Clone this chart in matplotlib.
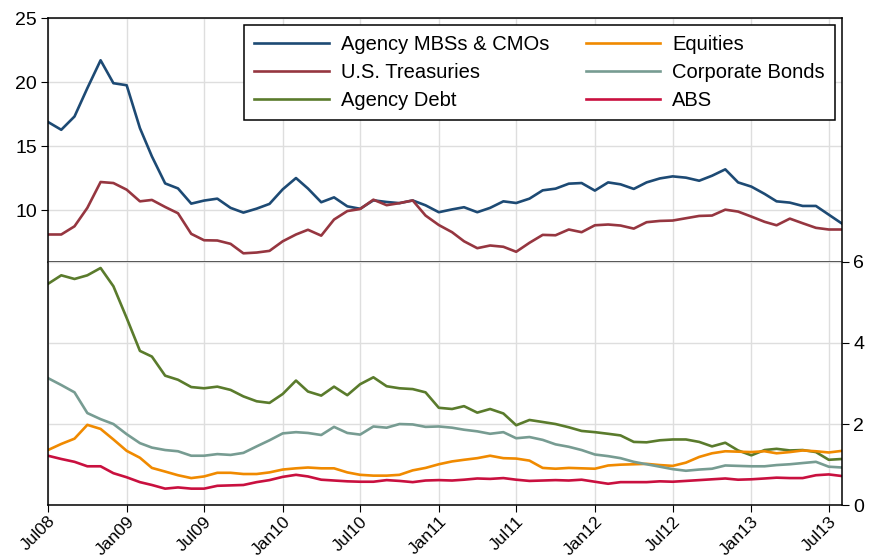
import matplotlib
matplotlib.use("Agg")
import matplotlib.pyplot as plt
import matplotlib.dates as mdates
import pandas as pd

plt.rcParams['font.family'] = ['Liberation Sans', 'DejaVu Sans']

dates = pd.date_range("2008-07-01", periods=62, freq="MS")

mbs = [16.9, 16.29, 17.33, 19.54, 21.72, 19.93, 19.77, 16.42, 14.21, 12.1,
       11.71, 10.52, 10.76, 10.91, 10.19, 9.82, 10.13, 10.5, 11.64, 12.52,
       11.7, 10.63, 11.01, 10.31, 10.12, 10.78, 10.65, 10.56, 10.77, 10.39,
       9.85, 10.07, 10.24, 9.85, 10.19, 10.70, 10.57, 10.91, 11.56, 11.69,
       12.08, 12.13, 11.54, 12.18, 12.03, 11.67, 12.18, 12.49, 12.65, 12.55,
       12.31, 12.70, 13.2, 12.18, 11.85, 11.28, 10.70, 10.6, 10.34, 10.34,
       9.66, 8.96]
treasuries = [8.11, 8.11, 8.75, 10.19, 12.21, 12.13, 11.61, 10.70, 10.81, 10.26,
              9.77, 8.16, 7.66, 7.64, 7.38, 6.64, 6.70, 6.83, 7.58, 8.11,
              8.48, 8.02, 9.28, 9.94, 10.1, 10.83, 10.4, 10.56, 10.77, 9.59,
              8.85, 8.29, 7.58, 7.04, 7.25, 7.15, 6.76, 7.46, 8.08, 8.05,
              8.50, 8.29, 8.83, 8.89, 8.81, 8.57, 9.07, 9.17, 9.20, 9.38,
              9.56, 9.59, 10.05, 9.90, 9.51, 9.10, 8.83, 9.35, 8.99, 8.63,
              8.50, 8.50]
agency_debt = [5.45, 5.66, 5.57, 5.66, 5.84, 5.39, 4.61, 3.80, 3.66, 3.19,
               3.09, 2.91, 2.88, 2.92, 2.84, 2.68, 2.56, 2.52, 2.74, 3.07,
               2.80, 2.70, 2.92, 2.71, 2.98, 3.15, 2.93, 2.88, 2.86, 2.78,
               2.40, 2.37, 2.44, 2.28, 2.37, 2.26, 1.97, 2.10, 2.05, 2.0,
               1.92, 1.83, 1.80, 1.76, 1.72, 1.56, 1.55, 1.60, 1.62, 1.62,
               1.56, 1.45, 1.54, 1.35, 1.23, 1.36, 1.39, 1.35, 1.36, 1.31,
               1.12, 1.14]
equities = [1.36, 1.51, 1.64, 1.98, 1.88, 1.62, 1.34, 1.17, 0.92, 0.83,
            0.74, 0.67, 0.71, 0.80, 0.80, 0.77, 0.77, 0.81, 0.88, 0.91,
            0.93, 0.91, 0.91, 0.81, 0.75, 0.73, 0.73, 0.75, 0.86, 0.92,
            1.01, 1.08, 1.12, 1.16, 1.22, 1.16, 1.15, 1.10, 0.92, 0.90,
            0.92, 0.91, 0.90, 0.98, 1.00, 1.01, 1.02, 0.99, 0.97, 1.05,
            1.19, 1.28, 1.33, 1.32, 1.31, 1.33, 1.28, 1.31, 1.35, 1.33,
            1.30, 1.34]
corporate = [3.13, 2.96, 2.78, 2.27, 2.12, 2.0, 1.75, 1.53, 1.42, 1.36,
             1.33, 1.22, 1.22, 1.26, 1.24, 1.29, 1.45, 1.60, 1.77, 1.80,
             1.78, 1.73, 1.93, 1.78, 1.74, 1.94, 1.91, 2.0, 1.99, 1.93,
             1.94, 1.91, 1.86, 1.82, 1.76, 1.80, 1.65, 1.68, 1.61, 1.50,
             1.44, 1.36, 1.25, 1.21, 1.16, 1.07, 1.01, 0.95, 0.89, 0.85,
             0.88, 0.90, 0.98, 0.97, 0.96, 0.96, 0.99, 1.01, 1.04, 1.07,
             0.95, 0.93]
abs_ = [1.22, 1.14, 1.07, 0.96, 0.96, 0.79, 0.69, 0.57, 0.50, 0.41,
        0.44, 0.41, 0.41, 0.48, 0.49, 0.50, 0.57, 0.62, 0.70, 0.75,
        0.71, 0.63, 0.61, 0.59, 0.58, 0.58, 0.62, 0.60, 0.57, 0.61,
        0.62, 0.61, 0.63, 0.66, 0.65, 0.67, 0.63, 0.60, 0.61, 0.62,
        0.61, 0.63, 0.58, 0.53, 0.57, 0.57, 0.57, 0.59, 0.58, 0.60,
        0.62, 0.64, 0.66, 0.63, 0.64, 0.66, 0.68, 0.67, 0.67, 0.74,
        0.76, 0.72]

top_ticks = [10, 15, 20, 25]
bottom_ticks = [0, 2, 4, 6]
tick_dates = pd.date_range("2008-07-01", "2013-07-01", freq="6MS")

c_mbs = "#1d4a74"
c_tre = "#963640"
c_agd = "#5a7b2c"
c_equ = "#f08a00"
c_cor = "#779c92"
c_abs = "#c9103f"
grid_c = "#dedede"
lw = 1.9
fs = 14

fig = plt.figure(figsize=(8.72, 5.6), dpi=100)
L, R = 48 / 872, 842 / 872
ax_top = fig.add_axes([L, 1 - 261.5 / 560, R - L, 243.2 / 560])
ax_bot = fig.add_axes([L, 1 - 505.3 / 560, R - L, 243.8 / 560], sharex=ax_top)

l1, = ax_top.plot(dates, mbs, color=c_mbs, lw=lw, label="Agency MBSs & CMOs")
l2, = ax_top.plot(dates, treasuries, color=c_tre, lw=lw, label="U.S. Treasuries")
l3, = ax_bot.plot(dates, agency_debt, color=c_agd, lw=lw, label="Agency Debt")
l4, = ax_bot.plot(dates, equities, color=c_equ, lw=lw, label="Equities")
l5, = ax_bot.plot(dates, corporate, color=c_cor, lw=lw, label="Corporate Bonds")
l6, = ax_bot.plot(dates, abs_, color=c_abs, lw=lw, label="ABS")

ax_top.set_ylim(6, 25)
ax_bot.set_ylim(0, 6)
ax_top.set_xlim(dates[0], dates[-1])

for ax in (ax_top, ax_bot):
    ax.set_xticks(tick_dates)
    ax.grid(True, color=grid_c, lw=1.0)
    ax.set_axisbelow(True)
    for s in ax.spines.values():
        s.set_color("black")
        s.set_linewidth(1.1)

ax_top.set_yticks(top_ticks)
ax_top.tick_params(axis='y', which='both', left=True, right=False, labelleft=True,
                   labelright=False, direction='out', length=5, labelsize=fs, pad=3)
ax_top.tick_params(axis='x', bottom=False, labelbottom=False)
ax_top.spines['bottom'].set_color("#555555")
ax_top.spines['bottom'].set_linewidth(1.4)

ax_bot.set_yticks(bottom_ticks)
ax_bot.yaxis.tick_right()
ax_bot.tick_params(axis='y', left=False, right=True, labelleft=False, labelright=True,
                   direction='out', length=5, labelsize=fs, pad=3)
ax_bot.spines['top'].set_visible(False)
ax_bot.xaxis.set_major_formatter(mdates.DateFormatter("%b%y"))
ax_bot.tick_params(axis='x', direction='out', length=5, labelsize=12.5, pad=1)
for lab in ax_bot.get_xticklabels():
    lab.set_rotation(45)
    lab.set_ha('right')
    lab.set_rotation_mode('anchor')

handles = [l1, l2, l3, l4, l5, l6]
labels = [h.get_label() for h in handles]
leg = ax_top.legend(handles, labels, ncol=2, loc='upper right',
                    bbox_to_anchor=((835 - 48) / 794, 1 - (25 - 18.3) / 243.2),
                    fontsize=14.5, frameon=True, fancybox=False, framealpha=1,
                    edgecolor='black', handlelength=3.7, handletextpad=0.6,
                    columnspacing=1.8, labelspacing=0.45, borderpad=0.5,
                    borderaxespad=0)
leg.get_frame().set_linewidth(1.1)
leg.set_zorder(5)

fig.savefig("out.png", dpi=100)
